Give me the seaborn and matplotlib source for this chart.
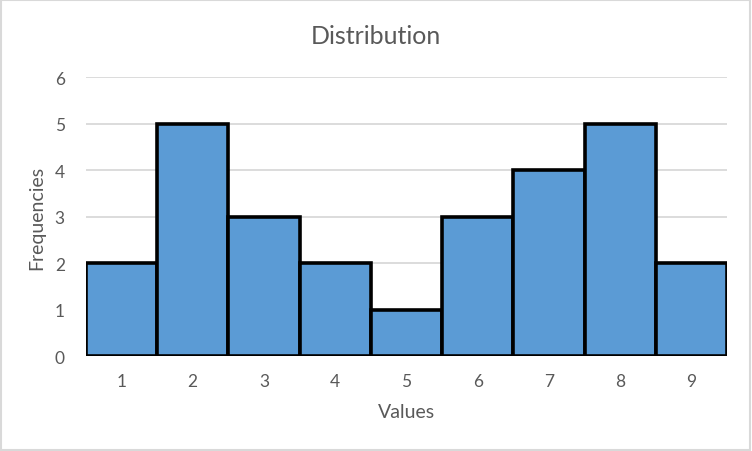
import pandas as pd
import seaborn as sns
import matplotlib.pyplot as plt
from matplotlib.patches import Rectangle

values = ['1', '2', '3', '4', '5', '6', '7', '8', '9']
frequencies = [2, 5, 3, 2, 1, 3, 4, 5, 2]
y_ticks = [0, 1, 2, 3, 4, 5, 6]

df = pd.DataFrame({'Values': values, 'Frequencies': frequencies})

sns.set_style("white")
plt.rcParams['font.family'] = ['Lato', 'DejaVu Sans']

fig = plt.figure(figsize=(7.52, 4.52), dpi=100)
ax = fig.add_axes([0.114, 0.21, 0.853, 0.617])

ax.yaxis.grid(True, color='#D9D9D9', linewidth=1.3, zorder=0)
ax.set_axisbelow(True)

sns.barplot(data=df, x='Values', y='Frequencies', color='#5B9BD5', width=1.0,
            edgecolor='black', linewidth=2.6, saturation=1, ax=ax, zorder=3)

ax.set_xlim(-0.5, 8.5)
ax.set_ylim(0, 6)
ax.set_yticks(y_ticks)
for s in ax.spines.values():
    s.set_visible(False)
ax.tick_params(axis='both', length=0, colors='#595959', labelsize=12.5)
ax.tick_params(axis='x', pad=12)
ax.tick_params(axis='y', pad=15)

fig.text(0.5, 1 - 37 / 452, 'Distribution', fontsize=18, color='#595959',
         ha='center', va='center')
ax.set_xlabel('Values', fontsize=14, color='#595959', labelpad=10)
ax.set_ylabel('Frequencies', fontsize=14, color='#595959', labelpad=7)

fig.patches.append(Rectangle((0.001, 0.002), 0.997, 0.995, transform=fig.transFigure,
                             fill=False, edgecolor='#D9D9D9', linewidth=1.5))

fig.savefig('out.png', dpi=100)
